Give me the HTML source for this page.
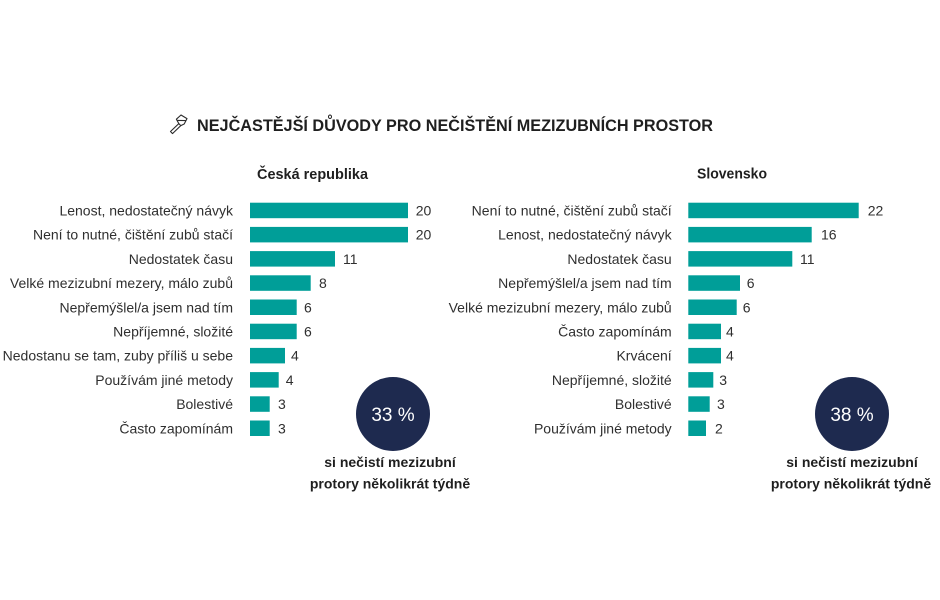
<!DOCTYPE html>
<html>
<head>
<meta charset="utf-8">
<style>
  html, body { margin: 0; padding: 0; background: #ffffff; }
  svg { display: block; }
  text { font-family: "Liberation Sans", Arial, sans-serif; }
  .lbl { font-size: 14px; fill: #2f2f2f; }
  .val { font-size: 14px; fill: #2f2f2f; }
  .bar { fill: #009e98; }
</style>
</head>
<body>
<svg width="940" height="600" viewBox="0 0 940 600" xmlns="http://www.w3.org/2000/svg">
  <rect x="0" y="0" width="940" height="600" fill="#ffffff"/>

  <!-- icon: floss pick -->
  <g fill="none" stroke="#2b2b2b" stroke-width="1.1" stroke-linejoin="round" stroke-linecap="round">
    <path d="M170.5,131.5 L178.8,123.6 L180.8,125.6 L172.5,133.6 Z"/>
    <path d="M178.8,123.6 L176.4,119.2 L181.0,115.0 L187.0,118.6 L184.2,124.0 L180.8,125.6"/>
    <path d="M177.6,120.4 L185.6,120.6"/>
  </g>

  <!-- title -->
  <text x="197" y="131" font-size="16.2" font-weight="bold" fill="#1f1f1f" textLength="516" lengthAdjust="spacingAndGlyphs">NEJČASTĚJŠÍ DŮVODY PRO NEČIŠTĚNÍ MEZIZUBNÍCH PROSTOR</text>

  <!-- subheaders -->
  <text x="257" y="179" font-size="14.3" font-weight="bold" fill="#1f1f1f" textLength="111" lengthAdjust="spacingAndGlyphs">Česká republika</text>
  <text x="697" y="178.5" font-size="14.3" font-weight="bold" fill="#1f1f1f" textLength="70" lengthAdjust="spacingAndGlyphs">Slovensko</text>

  <!-- LEFT CHART -->
  <g>
    <rect class="bar" x="250" y="202.7" width="158" height="15.5"/>
    <rect class="bar" x="250" y="226.9" width="158" height="15.5"/>
    <rect class="bar" x="250" y="251.1" width="85" height="15.5"/>
    <rect class="bar" x="250" y="275.3" width="60.7" height="15.5"/>
    <rect class="bar" x="250" y="299.5" width="46.7" height="15.5"/>
    <rect class="bar" x="250" y="323.7" width="46.7" height="15.5"/>
    <rect class="bar" x="250" y="347.9" width="35" height="15.5"/>
    <rect class="bar" x="250" y="372.1" width="28.7" height="15.5"/>
    <rect class="bar" x="250" y="396.3" width="19.7" height="15.5"/>
    <rect class="bar" x="250" y="420.5" width="19.7" height="15.5"/>

    <text class="lbl" x="233" y="215.5" text-anchor="end">Lenost, nedostatečný návyk</text>
    <text class="lbl" x="233" y="239.7" text-anchor="end">Není to nutné, čištění zubů stačí</text>
    <text class="lbl" x="233" y="263.9" text-anchor="end">Nedostatek času</text>
    <text class="lbl" x="233" y="288.1" text-anchor="end">Velké mezizubní mezery, málo zubů</text>
    <text class="lbl" x="233" y="312.3" text-anchor="end">Nepřemýšlel/a jsem nad tím</text>
    <text class="lbl" x="233" y="336.5" text-anchor="end">Nepříjemné, složité</text>
    <text class="lbl" x="233" y="360.7" text-anchor="end">Nedostanu se tam, zuby příliš u sebe</text>
    <text class="lbl" x="233" y="384.9" text-anchor="end">Používám jiné metody</text>
    <text class="lbl" x="233" y="409.1" text-anchor="end">Bolestivé</text>
    <text class="lbl" x="233" y="433.3" text-anchor="end">Často zapomínám</text>

    <text class="val" x="415.7" y="215.5">20</text>
    <text class="val" x="415.7" y="239.7">20</text>
    <text class="val" x="343" y="263.9">11</text>
    <text class="val" x="319" y="288.1">8</text>
    <text class="val" x="304" y="312.3">6</text>
    <text class="val" x="304" y="336.5">6</text>
    <text class="val" x="291" y="360.7">4</text>
    <text class="val" x="285.7" y="384.9">4</text>
    <text class="val" x="278" y="409.1">3</text>
    <text class="val" x="278" y="433.3">3</text>
  </g>

  <!-- RIGHT CHART -->
  <g>
    <rect class="bar" x="688.3" y="202.7" width="170.4" height="15.5"/>
    <rect class="bar" x="688.3" y="226.9" width="123.4" height="15.5"/>
    <rect class="bar" x="688.3" y="251.1" width="104" height="15.5"/>
    <rect class="bar" x="688.3" y="275.3" width="51.7" height="15.5"/>
    <rect class="bar" x="688.3" y="299.5" width="48.4" height="15.5"/>
    <rect class="bar" x="688.3" y="323.7" width="32.7" height="15.5"/>
    <rect class="bar" x="688.3" y="347.9" width="32.7" height="15.5"/>
    <rect class="bar" x="688.3" y="372.1" width="25" height="15.5"/>
    <rect class="bar" x="688.3" y="396.3" width="21.4" height="15.5"/>
    <rect class="bar" x="688.3" y="420.5" width="17.7" height="15.5"/>

    <text class="lbl" x="671.7" y="215.5" text-anchor="end">Není to nutné, čištění zubů stačí</text>
    <text class="lbl" x="671.7" y="239.7" text-anchor="end">Lenost, nedostatečný návyk</text>
    <text class="lbl" x="671.7" y="263.9" text-anchor="end">Nedostatek času</text>
    <text class="lbl" x="671.7" y="288.1" text-anchor="end">Nepřemýšlel/a jsem nad tím</text>
    <text class="lbl" x="671.7" y="312.3" text-anchor="end">Velké mezizubní mezery, málo zubů</text>
    <text class="lbl" x="671.7" y="336.5" text-anchor="end">Často zapomínám</text>
    <text class="lbl" x="671.7" y="360.7" text-anchor="end">Krvácení</text>
    <text class="lbl" x="671.7" y="384.9" text-anchor="end">Nepříjemné, složité</text>
    <text class="lbl" x="671.7" y="409.1" text-anchor="end">Bolestivé</text>
    <text class="lbl" x="671.7" y="433.3" text-anchor="end">Používám jiné metody</text>

    <text class="val" x="867.7" y="215.5">22</text>
    <text class="val" x="821" y="239.7">16</text>
    <text class="val" x="800" y="263.9">11</text>
    <text class="val" x="746.7" y="288.1">6</text>
    <text class="val" x="742.7" y="312.3">6</text>
    <text class="val" x="726" y="336.5">4</text>
    <text class="val" x="726" y="360.7">4</text>
    <text class="val" x="719.3" y="384.9">3</text>
    <text class="val" x="717" y="409.1">3</text>
    <text class="val" x="715" y="433.3">2</text>
  </g>

  <!-- circles -->
  <circle cx="393" cy="414" r="37" fill="#1e2a4f"/>
  <text x="393" y="421" font-size="19" fill="#ffffff" text-anchor="middle">33 %</text>
  <text x="390" y="467" font-size="14" font-weight="bold" fill="#1f1f1f" text-anchor="middle">si nečistí mezizubní</text>
  <text x="390" y="488.5" font-size="14" font-weight="bold" fill="#1f1f1f" text-anchor="middle">protory několikrát týdně</text>

  <circle cx="852" cy="414" r="37" fill="#1e2a4f"/>
  <text x="852" y="421" font-size="19" fill="#ffffff" text-anchor="middle">38 %</text>
  <text x="852" y="467" font-size="14" font-weight="bold" fill="#1f1f1f" text-anchor="middle">si nečistí mezizubní</text>
  <text x="851" y="488.5" font-size="14" font-weight="bold" fill="#1f1f1f" text-anchor="middle">protory několikrát týdně</text>
</svg>
</body>
</html>
